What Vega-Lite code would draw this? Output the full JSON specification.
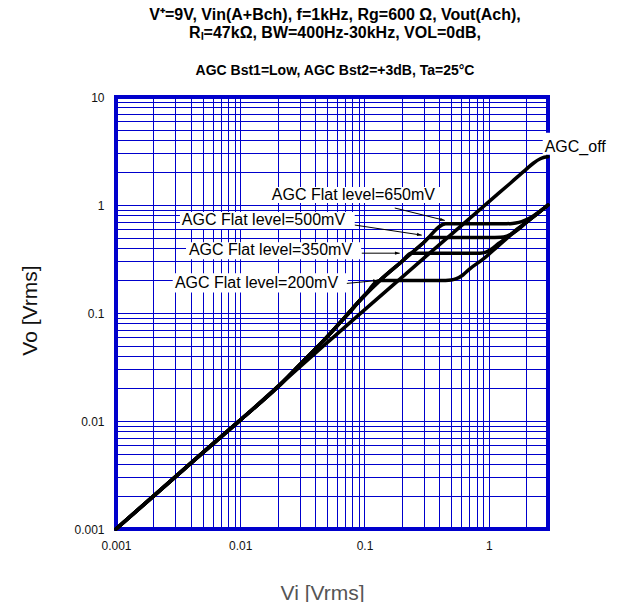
{
  "$schema": "https://vega.github.io/schema/vega-lite/v6.json",
  "autosize": "none",
  "width": 432,
  "height": 432,
  "padding": {"left": 116, "top": 97, "right": 75, "bottom": 73},
  "background": "white",
  "title": {
    "text": ["V⁺=9V, Vin(A+Bch), f=1kHz, Rg=600 Ω, Vout(Ach),", "Rₗ=47kΩ,  BW=400Hz-30kHz, VOL=0dB,"],
    "subtitle": "AGC Bst1=Low, AGC Bst2=+3dB, Ta=25°C",
    "font": "Liberation Sans",
    "fontSize": 16,
    "fontWeight": "bold",
    "color": "black",
    "lineHeight": 18,
    "subtitleFont": "Liberation Sans",
    "subtitleFontSize": 14,
    "subtitleFontWeight": "bold",
    "subtitleColor": "black",
    "subtitleLineHeight": 16,
    "subtitlePadding": 23,
    "offset": 13,
    "dx": 3,
    "anchor": "middle"
  },
  "config": {
    "view": {"stroke": "#0000cc", "strokeWidth": 4},
    "axis": {
      "labelFont": "Liberation Sans",
      "labelFontSize": 12,
      "labelColor": "#111",
      "titleFont": "Liberation Sans",
      "titleFontSize": 21,
      "titleFontWeight": "normal",
      "grid": true,
      "gridColor": "#0000cc",
      "gridOpacity": 1,
      "gridWidth": 1,
      "domain": false,
      "ticks": false,
      "tickSize": 0,
      "labelFlush": false,
      "labelOverlap": false
    }
  },
  "encoding": {
    "x": {
      "field": "x",
      "type": "quantitative",
      "scale": {"type": "log", "domain": [0.001, 3], "nice": false},
      "axis": {
        "title": "Vi [Vrms]",
        "titleColor": "#555",
        "values": [0.001,0.002,0.003,0.004,0.005,0.006,0.007,0.008,0.009,0.01,0.02,0.03,0.04,0.05,0.06,0.07,0.08,0.09,0.1,0.2,0.3,0.4,0.5,0.6,0.7,0.8,0.9,1,2,3],
        "labelExpr": "(datum.value==0.001||datum.value==0.01||datum.value==0.1||datum.value==1||datum.value==10) ? format(datum.value, '~g') : ''",
        "labelPadding": 11,
        "titleX": 206,
        "titleY": 70,
        "titleBaseline": "alphabetic",
        "titleAnchor": "middle",
        "titleAlign": "center"
      }
    },
    "y": {
      "field": "y",
      "type": "quantitative",
      "scale": {"type": "log", "domain": [0.001, 10], "nice": false},
      "axis": {
        "title": "Vo [Vrms]",
        "titleColor": "#111",
        "values": [0.001,0.002,0.003,0.004,0.005,0.006,0.007,0.008,0.009,0.01,0.02,0.03,0.04,0.05,0.06,0.07,0.08,0.09,0.1,0.2,0.3,0.4,0.5,0.6,0.7,0.8,0.9,1,2,3,4,5,6,7,8,9,10],
        "labelExpr": "(datum.value==0.001||datum.value==0.01||datum.value==0.1||datum.value==1||datum.value==10) ? format(datum.value, '~g') : ''",
        "labelPadding": 12,
        "titleX": -80,
        "titleY": 213,
        "titleAngle": -90,
        "titleBaseline": "alphabetic",
        "titleAlign": "center",
        "titleAnchor": "middle"
      }
    }
  },
  "layer": [
    {
      "data": {"values": [
        {"id": "650", "x": 0.0167, "x2": 0.42, "y": 1.044, "y2": 1.47},
        {"id": "500", "x": 0.00327, "x2": 0.0835, "y": 0.598, "y2": 0.86},
        {"id": "350", "x": 0.00366, "x2": 0.094, "y": 0.315, "y2": 0.453},
        {"id": "200", "x": 0.00286, "x2": 0.0735, "y": 0.155, "y2": 0.233},
        {"id": "off", "x": 2.72, "x2": 7.8, "y": 2.92, "y2": 4.67}
      ]},
      "mark": {"type": "rect", "fill": "white", "stroke": null},
      "encoding": {"x2": {"field": "x2"}, "y2": {"field": "y2"}}
    },
    {
      "data": {"values": [
        {"c": "off", "x": 0.001, "y": 0.001},
        {"c": "off", "x": 0.002, "y": 0.002},
        {"c": "off", "x": 0.005, "y": 0.0051},
        {"c": "off", "x": 0.01, "y": 0.0102},
        {"c": "off", "x": 0.02, "y": 0.0208},
        {"c": "off", "x": 0.05, "y": 0.053},
        {"c": "off", "x": 0.1, "y": 0.107},
        {"c": "off", "x": 0.2, "y": 0.214},
        {"c": "off", "x": 0.5, "y": 0.535},
        {"c": "off", "x": 1, "y": 1.07},
        {"c": "off", "x": 1.5, "y": 1.6},
        {"c": "off", "x": 2, "y": 2.14},
        {"c": "off", "x": 2.3, "y": 2.45},
        {"c": "off", "x": 2.6, "y": 2.68},
        {"c": "off", "x": 2.8, "y": 2.77},
        {"c": "off", "x": 3, "y": 2.8},

        {"c": "a200", "x": 0.001, "y": 0.001},
        {"c": "a200", "x": 0.005, "y": 0.0051},
        {"c": "a200", "x": 0.01, "y": 0.0102},
        {"c": "a200", "x": 0.02, "y": 0.0206},
        {"c": "a200", "x": 0.03, "y": 0.033},
        {"c": "a200", "x": 0.05, "y": 0.06},
        {"c": "a200", "x": 0.07, "y": 0.092},
        {"c": "a200", "x": 0.1, "y": 0.145},
        {"c": "a200", "x": 0.133, "y": 0.2},
        {"c": "a200", "x": 0.2, "y": 0.2},
        {"c": "a200", "x": 0.3, "y": 0.2},
        {"c": "a200", "x": 0.45, "y": 0.2},
        {"c": "a200", "x": 0.5, "y": 0.202},
        {"c": "a200", "x": 0.55, "y": 0.208},
        {"c": "a200", "x": 0.62, "y": 0.225},
        {"c": "a200", "x": 0.7, "y": 0.255},
        {"c": "a200", "x": 0.9, "y": 0.315},
        {"c": "a200", "x": 1.2, "y": 0.42},
        {"c": "a200", "x": 1.5, "y": 0.525},
        {"c": "a200", "x": 2, "y": 0.686},
        {"c": "a200", "x": 2.5, "y": 0.843},
        {"c": "a200", "x": 3, "y": 1.0},

        {"c": "a350", "x": 0.001, "y": 0.001},
        {"c": "a350", "x": 0.005, "y": 0.0051},
        {"c": "a350", "x": 0.01, "y": 0.0102},
        {"c": "a350", "x": 0.02, "y": 0.0206},
        {"c": "a350", "x": 0.03, "y": 0.033},
        {"c": "a350", "x": 0.05, "y": 0.06},
        {"c": "a350", "x": 0.07, "y": 0.092},
        {"c": "a350", "x": 0.1, "y": 0.145},
        {"c": "a350", "x": 0.133, "y": 0.2},
        {"c": "a350", "x": 0.2, "y": 0.3},
        {"c": "a350", "x": 0.238, "y": 0.357},
        {"c": "a350", "x": 0.4, "y": 0.357},
        {"c": "a350", "x": 0.6, "y": 0.357},
        {"c": "a350", "x": 0.85, "y": 0.358},
        {"c": "a350", "x": 0.95, "y": 0.366},
        {"c": "a350", "x": 1.05, "y": 0.39},
        {"c": "a350", "x": 1.2, "y": 0.44},
        {"c": "a350", "x": 1.4, "y": 0.5},
        {"c": "a350", "x": 1.7, "y": 0.6},
        {"c": "a350", "x": 2, "y": 0.69},
        {"c": "a350", "x": 2.5, "y": 0.845},
        {"c": "a350", "x": 3, "y": 1.0},

        {"c": "a500", "x": 0.001, "y": 0.001},
        {"c": "a500", "x": 0.005, "y": 0.0051},
        {"c": "a500", "x": 0.01, "y": 0.0102},
        {"c": "a500", "x": 0.02, "y": 0.0206},
        {"c": "a500", "x": 0.03, "y": 0.033},
        {"c": "a500", "x": 0.05, "y": 0.06},
        {"c": "a500", "x": 0.07, "y": 0.092},
        {"c": "a500", "x": 0.1, "y": 0.145},
        {"c": "a500", "x": 0.133, "y": 0.2},
        {"c": "a500", "x": 0.2, "y": 0.3},
        {"c": "a500", "x": 0.3, "y": 0.45},
        {"c": "a500", "x": 0.333, "y": 0.5},
        {"c": "a500", "x": 0.6, "y": 0.5},
        {"c": "a500", "x": 1.0, "y": 0.5},
        {"c": "a500", "x": 1.25, "y": 0.502},
        {"c": "a500", "x": 1.4, "y": 0.515},
        {"c": "a500", "x": 1.55, "y": 0.545},
        {"c": "a500", "x": 1.75, "y": 0.6},
        {"c": "a500", "x": 2, "y": 0.69},
        {"c": "a500", "x": 2.5, "y": 0.845},
        {"c": "a500", "x": 3, "y": 1.0},

        {"c": "a650", "x": 0.001, "y": 0.001},
        {"c": "a650", "x": 0.005, "y": 0.0051},
        {"c": "a650", "x": 0.01, "y": 0.0102},
        {"c": "a650", "x": 0.02, "y": 0.0206},
        {"c": "a650", "x": 0.03, "y": 0.033},
        {"c": "a650", "x": 0.05, "y": 0.06},
        {"c": "a650", "x": 0.07, "y": 0.092},
        {"c": "a650", "x": 0.1, "y": 0.145},
        {"c": "a650", "x": 0.133, "y": 0.2},
        {"c": "a650", "x": 0.2, "y": 0.3},
        {"c": "a650", "x": 0.3, "y": 0.45},
        {"c": "a650", "x": 0.45, "y": 0.67},
        {"c": "a650", "x": 0.8, "y": 0.67},
        {"c": "a650", "x": 1.3, "y": 0.67},
        {"c": "a650", "x": 1.55, "y": 0.675},
        {"c": "a650", "x": 1.75, "y": 0.69},
        {"c": "a650", "x": 1.95, "y": 0.72},
        {"c": "a650", "x": 2.2, "y": 0.77},
        {"c": "a650", "x": 2.5, "y": 0.85},
        {"c": "a650", "x": 3, "y": 1.0}
      ]},
      "mark": {"type": "line", "color": "black", "strokeWidth": 3.5, "interpolate": "monotone", "strokeCap": "round"},
      "encoding": {"detail": {"field": "c"}}
    },
    {
      "data": {"name": "arrows", "values": [
        {"id": "650", "x": 0.1753, "y": 0.938, "x2": 0.443, "y2": 0.72, "angle": 13.5},
        {"id": "500", "x": 0.0836, "y": 0.652, "x2": 0.289, "y2": 0.526, "angle": 8.5},
        {"id": "350", "x": 0.0951, "y": 0.358, "x2": 0.192, "y2": 0.358, "angle": 0},
        {"id": "200", "x": 0.0721, "y": 0.188, "x2": 0.128, "y2": 0.2, "angle": -5.5}
      ]},
      "layer": [
        {
          "mark": {"type": "rule", "color": "black", "strokeWidth": 1},
          "encoding": {"x2": {"field": "x2"}, "y2": {"field": "y2"}}
        },
        {
          "mark": {"type": "point", "shape": "M0,0 L-1,-0.35 L-1,0.35 Z", "filled": true, "color": "black", "opacity": 1, "size": 90},
          "encoding": {
            "x": {"field": "x2", "type": "quantitative"},
            "y": {"field": "y2", "type": "quantitative"},
            "angle": {"field": "angle", "type": "quantitative", "scale": null}
          }
        }
      ]
    },
    {
      "data": {"values": [
        {"label": "AGC Flat level=650mV", "x": 0.01795, "y": 1.239},
        {"label": "AGC Flat level=500mV", "x": 0.00339, "y": 0.725},
        {"label": "AGC Flat level=350mV", "x": 0.00386, "y": 0.3815},
        {"label": "AGC Flat level=200mV", "x": 0.00298, "y": 0.188},
        {"label": "AGC_off", "x": 2.82, "y": 3.46}
      ]},
      "mark": {"type": "text", "align": "left", "baseline": "middle", "font": "Liberation Sans", "fontSize": 16, "color": "black"},
      "encoding": {"text": {"field": "label"}}
    }
  ]
}
